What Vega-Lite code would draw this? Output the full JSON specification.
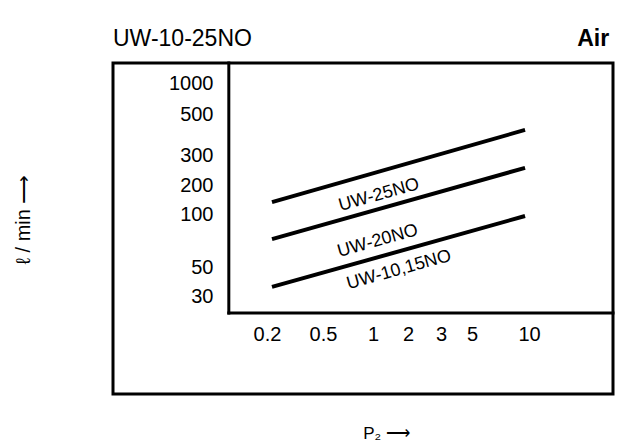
{
  "$schema": "https://vega.github.io/schema/vega-lite/v6.json",
  "width": 500,
  "height": 331,
  "autosize": {"type": "none"},
  "padding": {"left": 113, "top": 63, "right": 5, "bottom": 52},
  "background": "white",
  "datasets": {
    "frame": [
      {"x": 0.113, "y": 22.2, "x2": 0.113, "y2": 1563},
      {"x": 0.113, "y": 22.2, "x2": 28, "y2": 22.2}
    ],
    "series": [
      {"series": "UW-25NO", "x": 0.217, "y": 133},
      {"series": "UW-25NO", "x": 9.53, "y": 410},
      {"series": "UW-20NO", "x": 0.217, "y": 72},
      {"series": "UW-20NO", "x": 9.53, "y": 252},
      {"series": "UW-10,15NO", "x": 0.217, "y": 35.2},
      {"series": "UW-10,15NO", "x": 9.53, "y": 97.4}
    ],
    "labels": [
      {"label": "UW-25NO", "x": 1.126, "y": 157},
      {"label": "UW-20NO", "x": 1.10, "y": 70.3},
      {"label": "UW-10,15NO", "x": 1.67, "y": 47.4}
    ],
    "heading": [
      {"label": "UW-10-25NO", "x": 0.02, "y": 2260}
    ],
    "notes": [
      {"label": "Air", "x": 26.7, "y": 2260}
    ]
  },
  "encoding": {
    "x": {
      "field": "x",
      "type": "quantitative",
      "scale": {
        "type": "log",
        "domain": [0.02, 0.2, 0.5, 1, 2, 3, 5, 10, 28],
        "range": [0, 154, 210, 260, 295, 328, 359, 416, 500],
        "nice": false
      },
      "axis": {
        "orient": "bottom",
        "values": [0.2, 0.5, 1, 2, 3, 5, 10],
        "format": "~g",
        "offset": -81,
        "domain": false,
        "ticks": false,
        "tickSize": 0,
        "grid": false,
        "labelPadding": 11,
        "labelBaseline": "top",
        "labelFlush": false,
        "labelOverlap": false,
        "labelFont": "Liberation Sans",
        "labelFontSize": 20,
        "labelColor": "black",
        "title": "P₂ ⟶",
        "titleFont": "Liberation Sans",
        "titleFontSize": 17,
        "titleFontWeight": "normal",
        "titleColor": "black",
        "titleX": 273,
        "titleY": 120,
        "titleAngle": 0,
        "titleAlign": "center",
        "titleBaseline": "middle"
      }
    },
    "y": {
      "field": "y",
      "type": "quantitative",
      "scale": {
        "type": "log",
        "domain": [5.3, 30, 50, 100, 200, 300, 500, 1000, 1563],
        "range": [331, 233, 204, 151, 122, 92, 51, 20, 0],
        "nice": false
      },
      "axis": {
        "orient": "left",
        "values": [30, 50, 100, 200, 300, 500, 1000],
        "format": "d",
        "offset": -100,
        "domain": false,
        "ticks": false,
        "tickSize": 0,
        "grid": false,
        "labelPadding": 0,
        "labelFlush": false,
        "labelOverlap": false,
        "labelFont": "Liberation Sans",
        "labelFontSize": 20,
        "labelColor": "black",
        "title": "ℓ / min  ⟶",
        "titleFont": "Liberation Sans",
        "titleFontSize": 20,
        "titleFontWeight": "normal",
        "titleColor": "black",
        "titleX": -190,
        "titleY": 156,
        "titleAngle": -90,
        "titleAlign": "center",
        "titleBaseline": "middle"
      }
    }
  },
  "layer": [
    {
      "data": {"name": "frame"},
      "mark": {"type": "rule", "color": "black", "strokeWidth": 3, "strokeCap": "square"},
      "encoding": {
        "x2": {"field": "x2"},
        "y2": {"field": "y2"}
      }
    },
    {
      "data": {"name": "series"},
      "mark": {"type": "line", "color": "black", "strokeWidth": 4, "strokeCap": "butt"},
      "encoding": {
        "detail": {"field": "series", "type": "nominal"}
      }
    },
    {
      "data": {"name": "labels"},
      "mark": {"type": "text", "font": "Liberation Sans", "fontSize": 18, "angle": 344.4, "align": "center", "baseline": "middle", "color": "black"},
      "encoding": {
        "text": {"field": "label", "type": "nominal"}
      }
    },
    {
      "data": {"name": "heading"},
      "mark": {"type": "text", "font": "Liberation Sans", "fontSize": 23, "align": "left", "baseline": "alphabetic", "color": "black"},
      "encoding": {
        "text": {"field": "label", "type": "nominal"}
      }
    },
    {
      "data": {"name": "notes"},
      "mark": {"type": "text", "font": "Liberation Sans", "fontSize": 23, "fontWeight": "bold", "align": "right", "baseline": "alphabetic", "color": "black"},
      "encoding": {
        "text": {"field": "label", "type": "nominal"}
      }
    }
  ],
  "config": {
    "view": {"stroke": "black", "strokeWidth": 3}
  }
}
